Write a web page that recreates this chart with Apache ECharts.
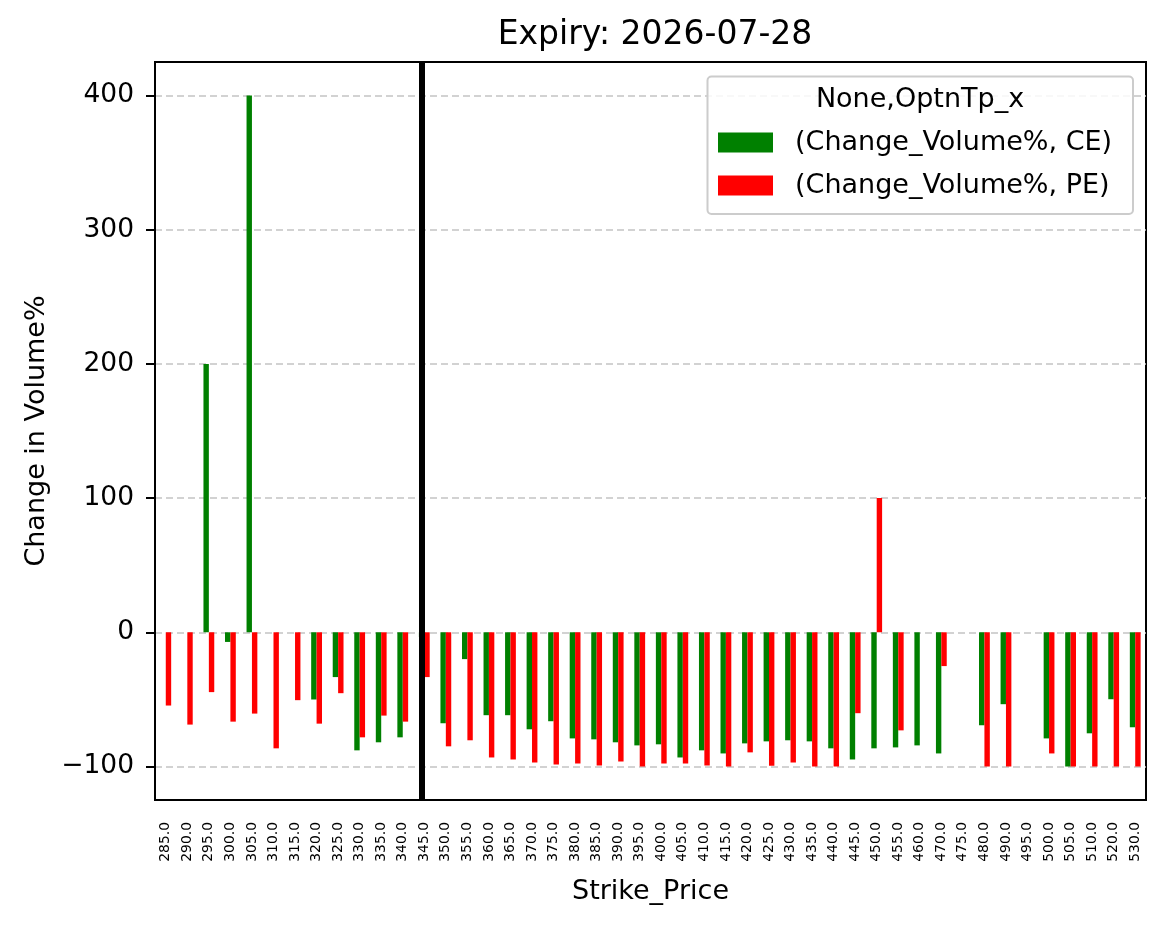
<!DOCTYPE html>
<html>
<head>
<meta charset="utf-8">
<script src="https://cdn.jsdelivr.net/npm/echarts@6/dist/echarts.min.js"></script>
<style>
  html, body { margin: 0; padding: 0; background: #fff; }
  #chart { width: 1166px; height: 928px; }
</style>
</head>
<body>
<div id="chart"></div>
<script>
// strike prices (category labels)
var strikes = ['285.0','290.0','295.0','300.0','305.0','310.0','315.0','320.0','325.0','330.0',
  '335.0','340.0','345.0','350.0','355.0','360.0','365.0','370.0','375.0','380.0',
  '385.0','390.0','395.0','400.0','405.0','410.0','415.0','420.0','425.0','430.0',
  '435.0','440.0','445.0','450.0','455.0','460.0','470.0','475.0','480.0','490.0',
  '495.0','500.0','505.0','510.0','520.0','530.0'];

// (Change_Volume%, CE)
var ceVals = [null, null, 200, -7.2, 400, null, null, -50.1, -33.4, -88.0,
  -82.0, -78.3, -3.5, -67.8, -20.0, -61.8, -61.8, -72.3, -66.3, -79.1,
  -79.8, -82.0, -84.3, -83.5, -93.3, -88.0, -90.3, -82.8, -81.3, -80.5,
  -81.3, -86.5, -94.8, -86.5, -85.8, -84.3, -90.3, null, -69.3, -53.6,
  null, -79.1, -100, -75.3, -49.9, -70.8];

// (Change_Volume%, PE)
var peVals = [-54.6, -68.8, -44.6, -66.6, -60.6, -86.5, -50.6, -68.1, -45.4, -78.3,
  -62.1, -66.6, -33.4, -85.0, -80.5, -93.3, -94.8, -97.0, -98.5, -97.8,
  -99.3, -96.3, -100, -97.8, -97.8, -99.3, -100, -89.5, -99.5, -97.0,
  -100, -100, -60.3, 100, -73.1, null, -25.2, null, -100, -100,
  null, -90.3, -100, -100, -100, -100];

var yTicks = [-100, 0, 100, 200, 300, 400];
var spotStrike = '345.0';

var FONT = 'DejaVu Sans';
var chart = echarts.init(document.getElementById('chart'));

var option = {
  animation: false,
  backgroundColor: '#fff',
  textStyle: { fontFamily: FONT, color: '#000' },
  title: {
    text: 'Expiry: 2026-07-28',
    left: 650,
    textAlign: 'center',
    top: 14,
    textStyle: { fontFamily: FONT, fontSize: 33, fontWeight: 'normal', color: '#000' }
  },
  grid: {
    left: 155, top: 62, width: 991, height: 738,
    show: true, borderColor: '#000', borderWidth: 2, backgroundColor: 'transparent'
  },
  legend: {
    orient: 'vertical',
    left: 718, top: 129,
    padding: 0,
    itemWidth: 55, itemHeight: 20, itemGap: 16,
    icon: 'rect',
    z: 10,
    textStyle: { fontFamily: FONT, fontSize: 27, color: '#000', padding: [0, 0, 0, 17] },
    data: ['(Change_Volume%, CE)', '(Change_Volume%, PE)']
  },
  graphic: [
    {
      type: 'rect', z: 8,
      shape: { x: 707.5, y: 76.5, width: 425.5, height: 137.5, r: 4 },
      style: { fill: 'rgba(255,255,255,0.85)', stroke: '#cccccc', lineWidth: 2 }
    },
    {
      type: 'text', z: 9,
      x: 920, y: 100,
      style: { text: 'None,OptnTp_x', fontFamily: FONT, fontSize: 27, fill: '#000', align: 'center', verticalAlign: 'middle' }
    }
  ],
  xAxis: {
    type: 'category',
    data: strikes,
    boundaryGap: true,
    name: 'Strike_Price',
    nameLocation: 'middle',
    nameGap: 78,
    nameTextStyle: { fontFamily: FONT, fontSize: 27, color: '#000' },
    axisLine: { onZero: false, lineStyle: { color: '#000', width: 2 } },
    axisTick: { alignWithLabel: true, interval: 0, length: 9, lineStyle: { color: '#000', width: 2 } },
    axisLabel: { interval: 0, rotate: 90, fontSize: 13.9, margin: 22, color: '#000', fontFamily: FONT },
    splitLine: { show: false }
  },
  yAxis: {
    type: 'value',
    min: -125, max: 425,
    name: 'Change in Volume%',
    nameLocation: 'middle',
    nameGap: 92,
    nameTextStyle: { fontFamily: FONT, fontSize: 27, color: '#000' },
    axisLine: { show: true, lineStyle: { color: '#000', width: 2 } },
    axisTick: { show: true, length: 9, customValues: yTicks, lineStyle: { color: '#000', width: 2 } },
    axisLabel: {
      customValues: yTicks, fontSize: 26.5, margin: 21, color: '#000', fontFamily: FONT,
      formatter: function (v) { return String(v).replace('-', '\u2212'); }
    },
    splitLine: { show: true, lineStyle: { color: '#c4c4c4', width: 1.6, type: [7, 4] } }
  },
  series: [
    {
      name: '(Change_Volume%, CE)',
      type: 'bar',
      data: ceVals,
      barWidth: 5.4,
      barGap: '0%',
      itemStyle: { color: '#008000' },
      markLine: {
        silent: true,
        symbol: ['none', 'none'],
        label: { show: false },
        lineStyle: { color: '#000', width: 6, type: 'solid' },
        data: [{ xAxis: spotStrike }]
      }
    },
    {
      name: '(Change_Volume%, PE)',
      type: 'bar',
      data: peVals,
      barWidth: 5.4,
      barGap: '0%',
      itemStyle: { color: '#ff0000' }
    }
  ]
};

chart.setOption(option);
</script>
</body>
</html>
